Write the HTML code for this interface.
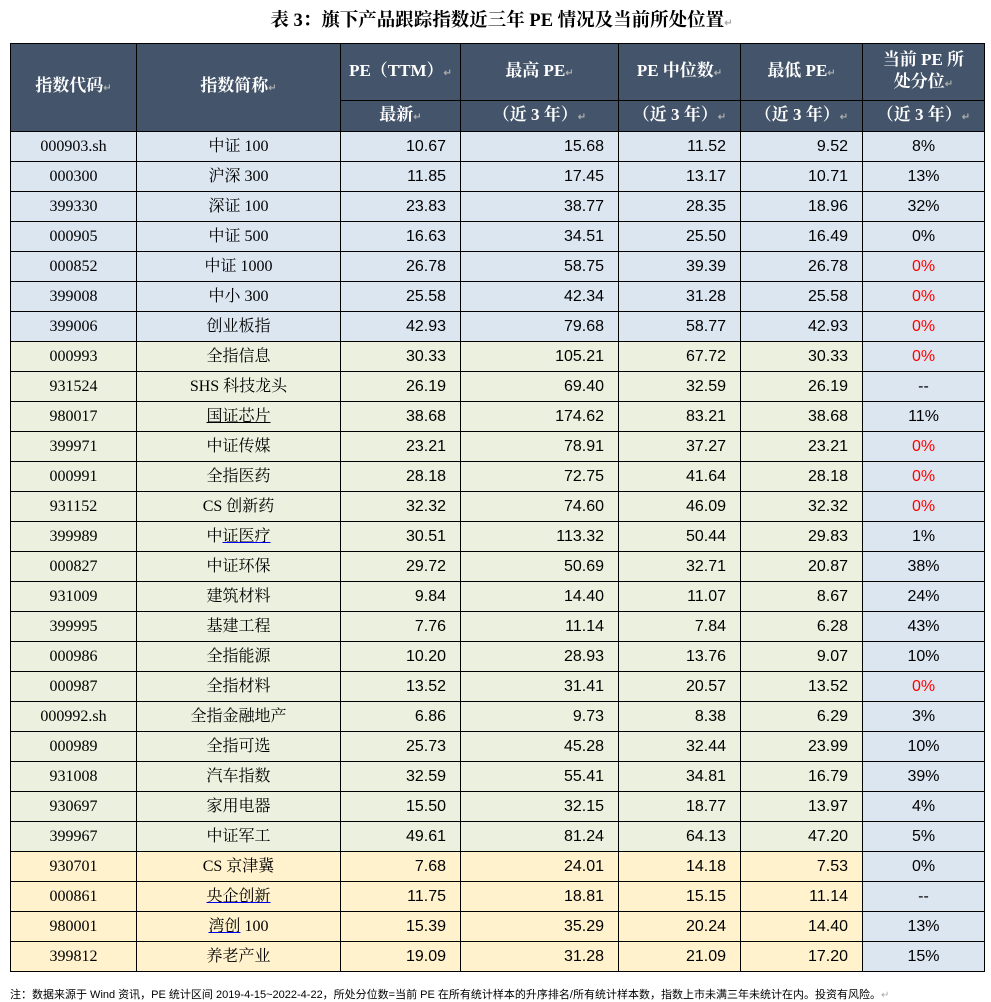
<!DOCTYPE html>
<html><head><meta charset="utf-8"><style>
body{margin:0;width:991px;height:1002px;background:#fff;position:relative;overflow:hidden}
.t{position:absolute;top:9px;left:0;width:1003px;text-align:center;font:bold 18.5px "Liberation Serif","Noto Serif CJK SC",serif;color:#000;line-height:24px}
table{position:absolute;left:10px;top:43px;border-collapse:collapse;table-layout:fixed;width:974px}
td,th{border:1.5px solid #000;padding:0;overflow:hidden;white-space:nowrap;vertical-align:middle}
th{background:#44546a;color:#fff;font:bold 17px "Liberation Serif","Noto Serif CJK SC",serif;text-align:center;line-height:22px}
tr.b,tr.g,tr.y{height:30px}
td{font:16px "Liberation Serif","Noto Serif CJK SC",serif;text-align:center;color:#000;line-height:18px}
td.n{text-align:right;padding-right:14px;font:16px "Liberation Sans","Noto Sans CJK SC",sans-serif;line-height:18px}
td.p{font:16px "Liberation Sans","Noto Sans CJK SC",sans-serif;background:#dce6f1!important;line-height:18px}
.r{color:#f00}
.m{color:#aaa;font-size:10px;font-family:"Liberation Sans",sans-serif}
tr.b td{background:#dce6f1}tr.g td{background:#ebf1de}tr.y td{background:#fff2cc}
.f{position:absolute;left:10px;top:986px;font:11px "Liberation Sans","Noto Sans CJK SC",sans-serif;color:#000}
</style></head><body>
<div class="t">表 3：旗下产品跟踪指数近三年 PE 情况及当前所处位置<span class="m">↵</span></div>
<table>
<colgroup><col style="width:126px"><col style="width:204px"><col style="width:120px"><col style="width:158px"><col style="width:122px"><col style="width:122px"><col style="width:122px"></colgroup>
<tr style="height:57px"><th rowspan="2">指数代码<span class="m">↵</span></th><th rowspan="2">指数简称<span class="m">↵</span></th><th>PE（TTM）<span class="m">↵</span></th><th>最高 PE<span class="m">↵</span></th><th>PE 中位数<span class="m">↵</span></th><th>最低 PE<span class="m">↵</span></th><th>当前 PE 所<br>处分位<span class="m">↵</span></th></tr>
<tr style="height:31px"><th>最新<span class="m">↵</span></th><th>（近 3 年）<span class="m">↵</span></th><th>（近 3 年）<span class="m">↵</span></th><th>（近 3 年）<span class="m">↵</span></th><th>（近 3 年）<span class="m">↵</span></th></tr>
<tr class="b"><td>000903.sh</td><td>中证 100</td><td class="n">10.67</td><td class="n">15.68</td><td class="n">11.52</td><td class="n">9.52</td><td class="p">8%</td></tr>
<tr class="b"><td>000300</td><td>沪深 300</td><td class="n">11.85</td><td class="n">17.45</td><td class="n">13.17</td><td class="n">10.71</td><td class="p">13%</td></tr>
<tr class="b"><td>399330</td><td>深证 100</td><td class="n">23.83</td><td class="n">38.77</td><td class="n">28.35</td><td class="n">18.96</td><td class="p">32%</td></tr>
<tr class="b"><td>000905</td><td>中证 500</td><td class="n">16.63</td><td class="n">34.51</td><td class="n">25.50</td><td class="n">16.49</td><td class="p">0%</td></tr>
<tr class="b"><td>000852</td><td>中证 1000</td><td class="n">26.78</td><td class="n">58.75</td><td class="n">39.39</td><td class="n">26.78</td><td class="p r">0%</td></tr>
<tr class="b"><td>399008</td><td>中小 300</td><td class="n">25.58</td><td class="n">42.34</td><td class="n">31.28</td><td class="n">25.58</td><td class="p r">0%</td></tr>
<tr class="b"><td>399006</td><td>创业板指</td><td class="n">42.93</td><td class="n">79.68</td><td class="n">58.77</td><td class="n">42.93</td><td class="p r">0%</td></tr>
<tr class="g"><td>000993</td><td>全指信息</td><td class="n">30.33</td><td class="n">105.21</td><td class="n">67.72</td><td class="n">30.33</td><td class="p r">0%</td></tr>
<tr class="g"><td>931524</td><td>SHS 科技龙头</td><td class="n">26.19</td><td class="n">69.40</td><td class="n">32.59</td><td class="n">26.19</td><td class="p">--</td></tr>
<tr class="g"><td>980017</td><td><u>国证芯片</u></td><td class="n">38.68</td><td class="n">174.62</td><td class="n">83.21</td><td class="n">38.68</td><td class="p">11%</td></tr>
<tr class="g"><td>399971</td><td>中证传媒</td><td class="n">23.21</td><td class="n">78.91</td><td class="n">37.27</td><td class="n">23.21</td><td class="p r">0%</td></tr>
<tr class="g"><td>000991</td><td>全指医药</td><td class="n">28.18</td><td class="n">72.75</td><td class="n">41.64</td><td class="n">28.18</td><td class="p r">0%</td></tr>
<tr class="g"><td>931152</td><td>CS 创新药</td><td class="n">32.32</td><td class="n">74.60</td><td class="n">46.09</td><td class="n">32.32</td><td class="p r">0%</td></tr>
<tr class="g"><td>399989</td><td>中<u style="text-decoration-color:#00f">证医疗</u></td><td class="n">30.51</td><td class="n">113.32</td><td class="n">50.44</td><td class="n">29.83</td><td class="p">1%</td></tr>
<tr class="g"><td>000827</td><td>中证环保</td><td class="n">29.72</td><td class="n">50.69</td><td class="n">32.71</td><td class="n">20.87</td><td class="p">38%</td></tr>
<tr class="g"><td>931009</td><td>建筑材料</td><td class="n">9.84</td><td class="n">14.40</td><td class="n">11.07</td><td class="n">8.67</td><td class="p">24%</td></tr>
<tr class="g"><td>399995</td><td>基建工程</td><td class="n">7.76</td><td class="n">11.14</td><td class="n">7.84</td><td class="n">6.28</td><td class="p">43%</td></tr>
<tr class="g"><td>000986</td><td>全指能源</td><td class="n">10.20</td><td class="n">28.93</td><td class="n">13.76</td><td class="n">9.07</td><td class="p">10%</td></tr>
<tr class="g"><td>000987</td><td>全指材料</td><td class="n">13.52</td><td class="n">31.41</td><td class="n">20.57</td><td class="n">13.52</td><td class="p r">0%</td></tr>
<tr class="g"><td>000992.sh</td><td>全指金融地产</td><td class="n">6.86</td><td class="n">9.73</td><td class="n">8.38</td><td class="n">6.29</td><td class="p">3%</td></tr>
<tr class="g"><td>000989</td><td>全指可选</td><td class="n">25.73</td><td class="n">45.28</td><td class="n">32.44</td><td class="n">23.99</td><td class="p">10%</td></tr>
<tr class="g"><td>931008</td><td>汽车指数</td><td class="n">32.59</td><td class="n">55.41</td><td class="n">34.81</td><td class="n">16.79</td><td class="p">39%</td></tr>
<tr class="g"><td>930697</td><td>家用电器</td><td class="n">15.50</td><td class="n">32.15</td><td class="n">18.77</td><td class="n">13.97</td><td class="p">4%</td></tr>
<tr class="g"><td>399967</td><td>中证军工</td><td class="n">49.61</td><td class="n">81.24</td><td class="n">64.13</td><td class="n">47.20</td><td class="p">5%</td></tr>
<tr class="y"><td>930701</td><td>CS 京津冀</td><td class="n">7.68</td><td class="n">24.01</td><td class="n">14.18</td><td class="n">7.53</td><td class="p">0%</td></tr>
<tr class="y"><td>000861</td><td><u style="text-decoration-color:#00f">央企创新</u></td><td class="n">11.75</td><td class="n">18.81</td><td class="n">15.15</td><td class="n">11.14</td><td class="p">--</td></tr>
<tr class="y"><td>980001</td><td><u style="text-decoration-color:#00f">湾创</u> 100</td><td class="n">15.39</td><td class="n">35.29</td><td class="n">20.24</td><td class="n">14.40</td><td class="p">13%</td></tr>
<tr class="y"><td>399812</td><td>养老产业</td><td class="n">19.09</td><td class="n">31.28</td><td class="n">21.09</td><td class="n">17.20</td><td class="p">15%</td></tr>
</table>
<div class="f">注：数据来源于 Wind 资讯，PE 统计区间 2019-4-15~2022-4-22，所处分位数=当前 PE 在所有统计样本的升序排名/所有统计样本数，指数上市未满三年未统计在内。投资有风险。<span class="m">↵</span></div>
</body></html>
